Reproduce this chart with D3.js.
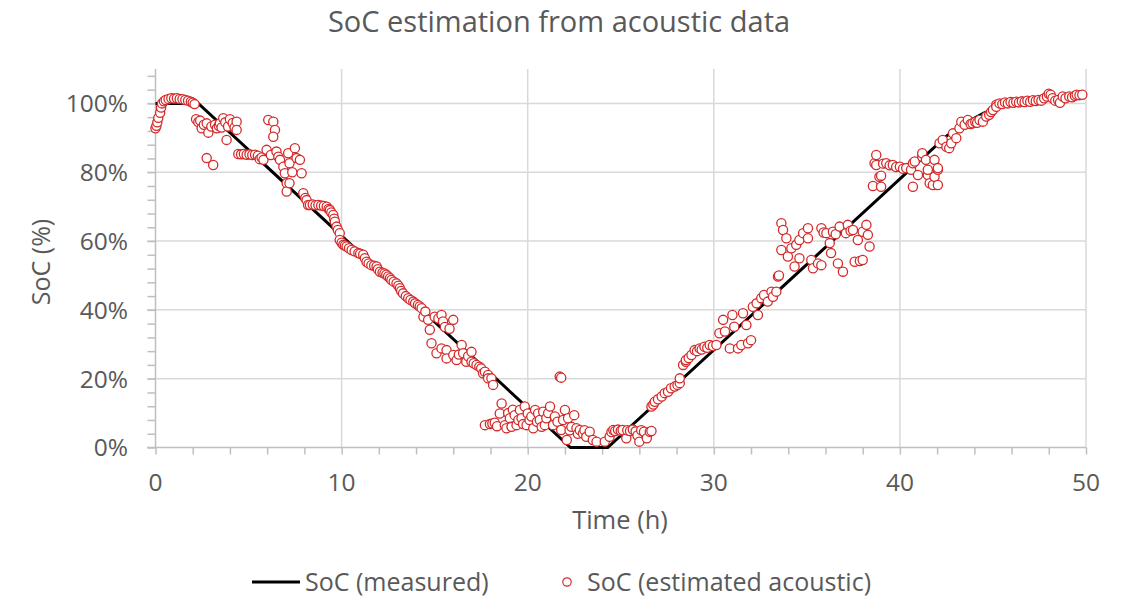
<!DOCTYPE html>
<html><head><meta charset="utf-8">
<script src="https://cdn.jsdelivr.net/npm/d3@7"></script>
<style>
body{margin:0;background:#fff;}
text{font-family:"Open Sans",sans-serif;fill:#595959;}
</style></head>
<body><svg id="c" width="1130" height="600"></svg>
<script>
const titleText = "SoC estimation from acoustic data";
const xTicks = [0,10,20,30,40,50];
const yTicks = [0,20,40,60,80,100];
const measuredTime = [0,2.3,22.3,24.3,42.5,43.5,44.5,45.5,46.0];
const measuredSoc  = [100,100,0,0,90.5,94.2,97.2,99.2,99.8];
const estimated = [
[0.0,92.8],[0.05,93.5],[0.1,94.5],[0.15,95.8],[0.25,97.3],[0.3,98.8],[0.35,100.0],[0.45,100.6],[0.55,101.0],[0.7,101.3],[0.85,101.5],[1.0,101.4],[1.15,101.5],[1.3,101.3],[1.45,101.2],[1.6,101.0],[1.75,100.8],[1.9,100.5],[2.0,100.2],[2.1,99.8],
[2.18,95.4],[2.3,94.6],[2.4,95.0],[2.48,92.8],[2.6,93.8],[2.75,94.2],[2.75,84.1],[2.84,91.5],[3.0,93.3],[3.1,82.1],[3.2,93.8],[3.3,92.8],[3.4,93.5],[3.46,94.2],[3.55,93.0],[3.64,95.7],[3.75,94.5],[3.82,89.4],[3.9,93.3],[4.0,95.4],[4.15,94.3],[4.25,93.0],[4.36,94.7],[4.36,92.3],
[4.45,85.3],[4.6,85.2],[4.75,85.3],[4.9,85.1],[5.05,85.2],[5.2,85.0],[5.35,85.1],[5.5,84.8],[5.6,83.8],[5.7,84.3],[5.8,83.6],[5.97,86.5],[6.06,95.2],[6.33,94.7],[6.42,92.3],[6.33,90.3],[6.2,85.0],[6.5,86.0],[6.6,84.5],[6.69,83.6],[6.87,81.6],[6.95,79.7],[7.05,76.8],[7.05,74.4],[7.13,85.5],[7.2,82.6],[7.2,76.8],[7.35,80.0],[7.49,87.0],[7.58,84.1],[7.76,83.6],[7.85,79.7],[7.94,73.9],
[8.05,72.5],[8.12,71.9],[8.2,70.5],[8.3,70.5],[8.45,70.6],[8.6,70.4],[8.75,70.5],[8.9,70.3],[9.05,70.2],[9.2,70.0],[9.3,69.3],[9.37,69.0],[9.45,68.3],[9.55,67.6],[9.6,66.5],[9.64,65.6],[9.73,64.2],[9.8,63.2],[9.9,62.3],[9.9,60.3],[10.0,59.5],[10.09,58.9],[10.18,58.7],[10.27,58.4],[10.4,57.9],[10.54,57.4],[10.7,57.0],[10.9,56.5],[11.0,56.3],[11.16,56.0],[11.25,55.0],[11.34,54.0],[11.45,53.5],[11.6,53.0],[11.75,52.8],[11.88,52.6],[11.95,51.8],[12.06,51.1],[12.2,50.8],[12.3,50.6],[12.4,50.2],[12.5,49.7],[12.6,49.2],[12.68,48.7],[12.8,48.2],[12.95,47.7],[13.05,47.0],[13.13,46.3],[13.2,45.5],[13.3,44.8],[13.45,44.0],[13.58,43.4],[13.7,42.9],[13.85,42.4],[13.95,41.9],[14.1,41.4],[14.2,41.0],[14.3,40.5],
[14.4,38.0],[14.5,39.5],[14.65,37.1],[14.74,34.2],[14.83,30.3],[15.0,38.0],[15.1,27.4],[15.2,37.5],[15.37,38.5],[15.37,28.8],[15.45,36.6],[15.55,35.0],[15.64,28.3],[15.64,25.9],[15.8,34.5],[16.0,37.1],[16.0,26.9],[16.18,25.4],[16.3,27.0],[16.45,29.8],[16.53,27.4],[16.7,24.9],[16.8,26.5],[16.98,27.8],[16.98,24.9],[17.1,24.5],[17.25,24.0],[17.4,23.5],[17.5,23.0],[17.6,21.6],[17.7,22.0],[17.87,21.1],[17.87,20.1],[18.05,20.1],[18.14,18.2],
[17.7,6.5],[17.97,6.8],[18.1,7.0],[18.23,7.2],[18.35,6.2],[18.5,9.9],[18.6,12.8],[18.77,6.5],[18.86,5.6],[18.95,10.0],[19.04,8.5],[19.13,6.0],[19.2,11.0],[19.3,9.4],[19.4,6.5],[19.5,8.0],[19.58,10.9],[19.67,8.5],[19.75,6.8],[19.84,11.9],[19.94,6.5],[20.0,9.9],[20.1,8.0],[20.2,9.0],[20.3,5.6],[20.4,10.9],[20.5,7.5],[20.56,9.9],[20.65,8.0],[20.75,6.0],[20.83,10.4],[20.92,6.5],[21.0,8.5],[21.1,10.0],[21.2,11.9],[21.36,6.5],[21.46,9.0],[21.6,7.5],[21.72,20.6],[21.8,20.3],[21.8,5.1],[21.9,8.0],[22.0,10.9],[22.1,2.2],[22.17,8.5],[22.25,5.0],[22.35,6.0],[22.5,9.4],[22.62,5.6],[22.7,4.0],[22.8,5.1],[22.97,4.1],[23.05,5.0],[23.15,3.1],[23.33,4.6],[23.5,2.2],[23.7,1.7],[24.14,1.7],[24.4,3.1],[24.5,4.5],[24.6,5.1],[24.7,4.8],[24.85,5.2],[25.0,4.9],[25.1,5.1],[25.3,2.7],[25.35,5.0],[25.5,4.8],[25.65,5.2],[25.8,4.7],[25.9,3.5],[26.0,1.7],[26.1,5.0],[26.25,4.6],[26.4,2.7],[26.56,4.6],[26.65,4.8],
[26.65,11.9],[26.75,12.5],[26.83,13.3],[27.0,14.0],[27.2,14.8],[27.36,15.8],[27.54,16.2],[27.7,17.2],[27.9,17.7],[28.05,18.2],[28.17,18.7],[28.17,20.1],[28.35,24.0],[28.5,24.9],[28.5,25.4],[28.65,26.0],[28.8,26.9],[28.97,28.3],[29.1,28.0],[29.24,28.8],[29.35,28.5],[29.5,29.3],[29.65,29.0],[29.78,29.8],[29.95,29.5],[30.14,29.8],[30.3,33.2],[30.5,37.1],[30.6,33.7],[30.86,28.8],[31.0,38.5],[31.1,35.1],[31.3,28.8],[31.48,29.8],[31.57,39.0],[31.75,35.6],[31.84,30.3],[32.0,31.2],[32.1,40.9],[32.3,41.9],[32.37,38.5],[32.55,43.4],[32.7,44.3],[32.9,42.4],[33.1,45.3],[33.18,43.8],[33.36,45.3],[33.45,49.7],[33.5,50.0],
[33.63,57.4],[33.63,65.2],[33.72,63.2],[33.9,60.8],[33.98,55.5],[34.17,57.9],[34.34,52.6],[34.43,58.9],[34.6,55.0],[34.6,60.3],[34.8,62.3],[35.06,63.7],[35.06,60.8],[35.24,54.5],[35.33,52.1],[35.6,53.5],[35.78,63.7],[35.78,53.0],[35.9,62.5],[36.05,62.3],[36.23,59.4],[36.3,56.5],[36.4,62.7],[36.55,62.0],[36.67,53.5],[36.76,64.2],[36.94,51.1],[37.1,62.3],[37.2,64.7],[37.35,63.0],[37.48,63.2],[37.57,54.0],[37.74,60.3],[37.85,54.2],[38.0,54.5],[38.0,62.7],[38.2,64.7],[38.28,61.8],[38.37,58.4],
[38.55,76.0],[38.64,82.6],[38.73,85.0],[38.73,82.1],[38.9,78.7],[38.99,75.8],[38.99,79.0],[39.1,82.5],[39.27,82.6],[39.45,82.0],[39.62,82.1],[39.8,81.5],[40.0,81.6],[40.17,81.0],[40.34,81.2],[40.6,80.7],[40.7,82.6],[40.7,75.8],[40.8,83.1],[40.97,79.2],[41.2,84.5],[41.2,85.5],[41.4,83.6],[41.5,79.2],[41.5,80.7],[41.6,76.8],[41.77,76.3],[41.86,83.6],[41.86,78.7],[42.04,80.7],[42.04,81.2],[42.04,76.3],
[42.13,88.4],[42.3,89.4],[42.5,87.4],[42.65,87.0],[42.76,88.4],[42.85,91.3],[43.03,89.9],[43.2,92.8],[43.3,94.7],[43.48,93.8],[43.65,95.2],[43.8,94.0],[43.9,94.2],[44.05,94.6],[44.15,94.4],[44.28,95.2],[44.46,94.7],[44.64,96.2],[44.8,96.7],[44.9,97.5],[45.0,98.1],[45.18,99.6],[45.18,99.0],[45.35,100.0],[45.5,99.8],[45.65,100.3],[45.8,100.0],[45.95,100.4],[46.1,100.2],[46.25,100.5],[46.4,100.3],[46.55,100.6],[46.7,100.4],[46.85,100.8],[47.0,100.5],[47.15,100.9],[47.3,100.7],[47.45,101.0],[47.6,100.8],[47.75,101.5],[47.9,102.0],[48.0,102.8],[48.1,102.5],[48.2,101.5],[48.35,100.8],[48.5,101.0],[48.6,100.2],[48.75,102.0],[48.9,101.5],[49.1,102.0],[49.25,101.8],[49.4,102.2],[49.5,102.5],[49.65,102.4],[49.8,102.5]
];

const svg = d3.select("#c");
const x = d3.scaleLinear().domain([0,50]).range([155.5,1086]);
const y = d3.scaleLinear().domain([0,110]).range([447.5,69]);
const grid = "#d9d9d9", axisC = "#bfbfbf";

// gridlines
svg.append("g").selectAll("line").data(yTicks.filter(d=>d>0)).join("line")
  .attr("x1",147).attr("x2",x(50)).attr("y1",d=>y(d)).attr("y2",d=>y(d))
  .attr("stroke",grid).attr("stroke-width",1.5);
svg.append("g").selectAll("line").data(xTicks.filter(d=>d>0)).join("line")
  .attr("x1",d=>x(d)).attr("x2",d=>x(d)).attr("y1",y(110)).attr("y2",y(0))
  .attr("stroke",grid).attr("stroke-width",1.5);

// y axis
const yAxis = d3.axisLeft(y).tickValues(d3.range(0,110,4)).tickSize(8).tickFormat("");
const gy = svg.append("g").attr("transform",`translate(${x(0)},0)`).call(yAxis);
gy.select(".domain").attr("stroke",axisC).attr("stroke-width",1.5).attr("d",`M0,${y(110)}V${y(0)}`);
gy.selectAll(".tick line").attr("stroke",axisC).attr("stroke-width",1.5);
svg.append("g").selectAll("text").data(yTicks).join("text")
  .attr("x",128).attr("y",d=>y(d)).attr("dy","0.36em").attr("text-anchor","end")
  .attr("font-size",24.5).text(d=>d+"%");

// x axis
const xAxis = d3.axisBottom(x).tickValues(d3.range(0,51,2)).tickSize(7).tickFormat("");
const gx = svg.append("g").attr("transform",`translate(0,${y(0)})`).call(xAxis);
gx.select(".domain").attr("stroke",axisC).attr("stroke-width",1.5).attr("d",`M147,0H${x(50)}`);
gx.selectAll(".tick line").attr("stroke",axisC).attr("stroke-width",1.5);
svg.append("g").selectAll("text").data(xTicks).join("text")
  .attr("x",d=>x(d)).attr("y",491).attr("text-anchor","middle")
  .attr("font-size",24.5).text(d=>d);

// measured line
const measured = measuredTime.map((t,i)=>[t,measuredSoc[i]]);
svg.append("path").datum(measured)
  .attr("d",d3.line().x(d=>x(d[0])).y(d=>y(d[1])))
  .attr("fill","none").attr("stroke","#000").attr("stroke-width",3);

// estimated markers
svg.append("g").selectAll("circle").data(estimated).join("circle")
  .attr("cx",d=>x(d[0])).attr("cy",d=>y(d[1])).attr("r",4.6)
  .attr("fill","#fff").attr("stroke","#d42a2a").attr("stroke-width",1.3);

// titles
svg.append("text").attr("x",559).attr("y",32).attr("text-anchor","middle")
  .attr("font-size",29).text(titleText);
svg.append("text").attr("x",620).attr("y",529).attr("text-anchor","middle")
  .attr("font-size",25.5).text("Time (h)");
svg.append("text").attr("transform","translate(50,262) rotate(-90)").attr("text-anchor","middle")
  .attr("font-size",25).text("SoC (%)");

// legend
svg.append("line").attr("x1",252).attr("x2",300).attr("y1",582).attr("y2",582)
  .attr("stroke","#000").attr("stroke-width",3);
svg.append("text").attr("x",305).attr("y",591).attr("font-size",25).text("SoC (measured)");
svg.append("circle").attr("cx",567).attr("cy",582).attr("r",4.2)
  .attr("fill","#fff").attr("stroke","#d42a2a").attr("stroke-width",1.2);
svg.append("text").attr("x",587).attr("y",591).attr("font-size",25).text("SoC (estimated acoustic)");
</script></body></html>
